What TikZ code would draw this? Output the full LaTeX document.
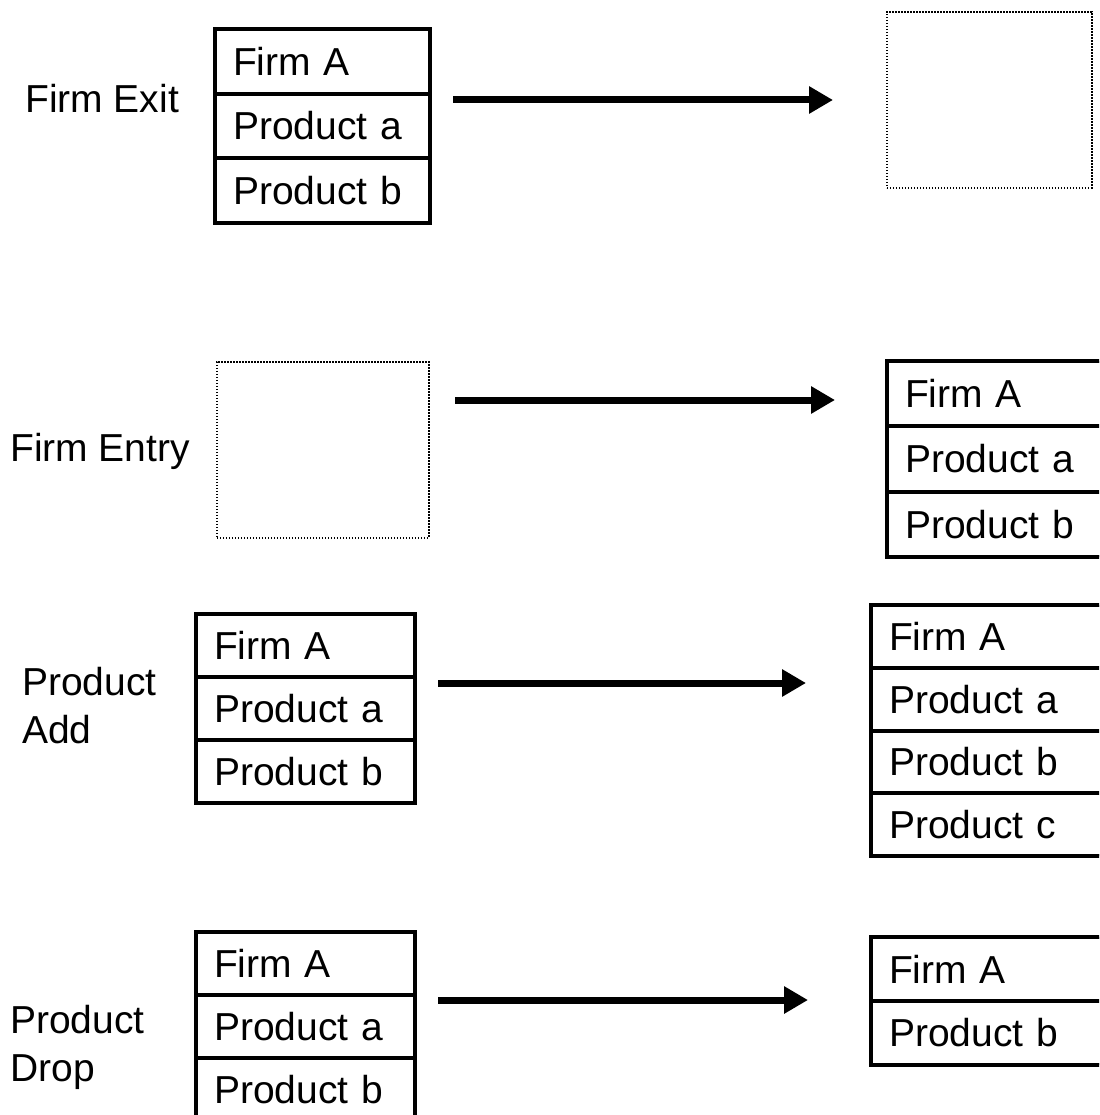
\documentclass[tikz,border=0pt]{standalone}
\usepackage{fontspec}
\setmainfont{Liberation Sans}
\usetikzlibrary{arrows.meta}
\begin{document}
\begin{tikzpicture}[x=1pt,y=-1pt,
  cellrow/.style={draw=black, line width=2pt, rectangle, anchor=north west,
    inner xsep=17pt, inner ysep=0pt, align=left,
    font=\fontsize{39}{46}\selectfont},
  frame/.style={draw=black, line width=4.5pt},
  emptybox/.style={draw=black, line width=1.6pt, dash pattern=on 1.6pt off 1.4pt,
    rectangle, anchor=north west, inner sep=0pt},
  lbl/.style={font=\fontsize{39}{48}\selectfont, inner sep=0pt, align=left},
  flow/.style={line width=7pt, -{Triangle[length=24pt, width=26pt]}}
]
\path[use as bounding box, clip] (0,0) rectangle (1099,1115);

% ---------- Firm Exit ----------
\node[lbl, anchor=base west] (lexit) at (25,113) {Firm Exit};
\node[cellrow, text width=179pt, minimum height=62.7pt] (b1a) at (215,29) {Firm A};
\node[cellrow, text width=179pt, minimum height=62.7pt] (b1b) at (b1a.south west) {Product a};
\node[cellrow, text width=179pt, minimum height=62.7pt] (b1c) at (b1b.south west) {Product b};
\draw[frame] (b1a.north west) rectangle (b1c.south east);
\node[emptybox, minimum width=205pt, minimum height=176pt] (e1) at (886,11) {};
\coordinate (a1s) at (453,100);
\coordinate (a1e) at (833,100);
\draw[flow] (a1s) -- (a1e);

% ---------- Firm Entry ----------
\node[lbl, anchor=base west] (lentry) at (10,461) {Firm Entry};
\node[emptybox, minimum width=212pt, minimum height=176pt] (e2) at (216,361) {};
\node[cellrow, text width=226pt, minimum height=63.3pt] (b2a) at (887,361) {Firm A};
\node[cellrow, text width=226pt, minimum height=63.3pt] (b2b) at (b2a.south west) {Product a};
\node[cellrow, text width=226pt, minimum height=63.3pt] (b2c) at (b2b.south west) {Product b};
\draw[frame] (b2a.north west) rectangle (b2c.south east);
\coordinate (a2s) at (455,400);
\coordinate (a2e) at (835,400);
\draw[flow] (a2s) -- (a2e);

% ---------- Product Add ----------
\node[lbl, anchor=north west] (ladd) at (22,667) {Product\\Add};
\node[cellrow, text width=183pt, minimum height=61pt] (b3a) at (196,614) {Firm A};
\node[cellrow, text width=183pt, minimum height=61pt] (b3b) at (b3a.south west) {Product a};
\node[cellrow, text width=183pt, minimum height=61pt] (b3c) at (b3b.south west) {Product b};
\draw[frame] (b3a.north west) rectangle (b3c.south east);
\node[cellrow, text width=226pt, minimum height=60.75pt] (b4a) at (871,605) {Firm A};
\node[cellrow, text width=226pt, minimum height=60.75pt] (b4b) at (b4a.south west) {Product a};
\node[cellrow, text width=226pt, minimum height=60.75pt] (b4c) at (b4b.south west) {Product b};
\node[cellrow, text width=226pt, minimum height=60.75pt] (b4d) at (b4c.south west) {Product c};
\draw[frame] (b4a.north west) rectangle (b4d.south east);
\coordinate (a3s) at (438,683);
\coordinate (a3e) at (806,683);
\draw[flow] (a3s) -- (a3e);

% ---------- Product Drop ----------
\node[lbl, anchor=north west] (ldrop) at (10,1005) {Product\\Drop};
\node[cellrow, text width=183pt, minimum height=61pt] (b5a) at (196,932) {Firm A};
\node[cellrow, text width=183pt, minimum height=61pt] (b5b) at (b5a.south west) {Product a};
\node[cellrow, text width=183pt, minimum height=61pt] (b5c) at (b5b.south west) {Product b};
\draw[frame] (b5a.north west) rectangle (b5c.south east);
\node[cellrow, text width=226pt, minimum height=62pt] (b6a) at (871,937) {Firm A};
\node[cellrow, text width=226pt, minimum height=62pt] (b6b) at (b6a.south west) {Product b};
\draw[frame] (b6a.north west) rectangle (b6b.south east);
\coordinate (a4s) at (438,1000);
\coordinate (a4e) at (808,1000);
\draw[flow] (a4s) -- (a4e);
\end{tikzpicture}
\end{document}
